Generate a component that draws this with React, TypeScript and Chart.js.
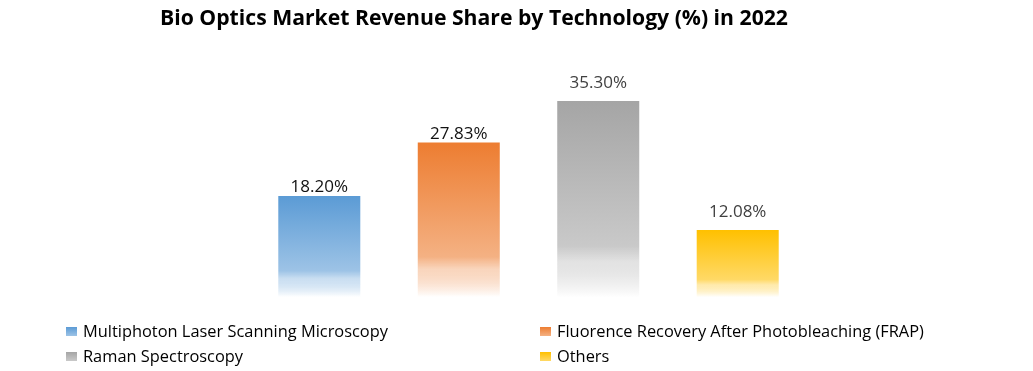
import React, { useEffect, useRef } from "react";
import { Chart, registerables } from "chart.js";

Chart.register(...registerables);

const TITLE = "Bio Optics Market Revenue Share by Technology (%) in 2022";
const categories = ["2022"];
const seriesNames = [
  "Multiphoton Laser Scanning Microscopy",
  "Fluorence Recovery After Photobleaching (FRAP)",
  "Raman Spectroscopy",
  "Others",
];
const seriesValues = [18.2, 27.83, 35.3, 12.08];
const topColors = ["#5B9BD5", "#ED7D31", "#A5A5A5", "#FFC000"];
const midColors = ["#9DC3E6", "#F4B183", "#C9C9C9", "#FFD966"];
const labelColors = ["#111111", "#111111", "#404040", "#404040"];
const labelGaps = [4, 4, 13, 13];

function makeGradient(ctx: CanvasRenderingContext2D, y0: number, y1: number, i: number) {
  const g = ctx.createLinearGradient(0, y0, 0, y1);
  g.addColorStop(0, topColors[i]);
  g.addColorStop(0.74, midColors[i]);
  g.addColorStop(0.84, "rgba(255,255,255,0)");
  g.addColorStop(0.84, midColors[i] + "99");
  g.addColorStop(1, "#FFFFFF");
  return g;
}

function blendGradient(ctx: CanvasRenderingContext2D, y0: number, y1: number, i: number) {
  const g = ctx.createLinearGradient(0, y0, 0, y1);
  g.addColorStop(0, topColors[i]);
  g.addColorStop(0.74, midColors[i]);
  g.addColorStop(0.82, midColors[i] + "88");
  g.addColorStop(1, "#FFFFFFF0");
  return g;
}

export default function App() {
  const ref = useRef<HTMLCanvasElement | null>(null);
  useEffect(() => {
    if (!ref.current) return;
    const overlay = {
      id: "overlay",
      afterDatasetsDraw(chart: any) {
        const ctx = chart.ctx as CanvasRenderingContext2D;
        ctx.save();
        ctx.font = "17px 'Open Sans'";
        ctx.textAlign = "center";
        ctx.textBaseline = "alphabetic";
        chart.data.datasets.forEach((ds: any, i: number) => {
          const meta = chart.getDatasetMeta(i);
          ctx.fillStyle = labelColors[i];
          meta.data.forEach((bar: any, j: number) => {
            ctx.fillText(ds.data[j].toFixed(2) + "%", bar.x, bar.y - labelGaps[i]);
          });
        });
        ctx.font = "bold 21.2px 'Open Sans'";
        ctx.fillStyle = "#000000";
        ctx.textBaseline = "middle";
        ctx.fillText(TITLE, 474, 19);
        ctx.font = "16.4px 'Open Sans'";
        ctx.textAlign = "left";
        const pos = [
          [66, 331],
          [540, 331],
          [66, 356],
          [540, 356],
        ];
        seriesNames.forEach((name, i) => {
          const [x, y] = pos[i];
          const g = ctx.createLinearGradient(0, y - 4, 0, y + 5);
          g.addColorStop(0, topColors[i]);
          g.addColorStop(1, midColors[i]);
          ctx.fillStyle = g;
          ctx.fillRect(x, y - 4, 11, 9);
          ctx.fillStyle = "#000000";
          ctx.fillText(name, x + 17, y + 1);
        });
        ctx.restore();
      },
    };
    const chart = new Chart(ref.current, {
      type: "bar",
      data: {
        labels: categories,
        datasets: seriesNames.map((name, i) => ({
          label: name,
          data: [seriesValues[i]],
          backgroundColor: (c: any) => {
            const ch = c.chart;
            const ys = ch.scales && ch.scales.y;
            if (!ys || !ch.chartArea) return topColors[i];
            const v = c.raw ?? seriesValues[i];
            return blendGradient(ch.ctx, ys.getPixelForValue(v), ys.getPixelForValue(0), i);
          },
          borderWidth: 0,
          barPercentage: 0.588,
          categoryPercentage: 0.797,
        })),
      },
      options: {
        animation: false,
        responsive: false,
        layout: { padding: { top: 75, bottom: 74, left: 178.5, right: 154.5 } },
        plugins: {
          legend: { display: false },
          title: { display: false },
          tooltip: { enabled: false },
        },
        scales: {
          x: { display: false },
          y: { display: false, min: 0, max: 40 },
        },
      },
      plugins: [overlay],
    });
    return () => chart.destroy();
  }, []);
  return (
    <div style={{ position: "fixed", left: 0, top: 0, width: 1033, height: 371, background: "#fff" }}>
      <canvas ref={ref} width={1033} height={371} style={{ width: 1033, height: 371 }} />
    </div>
  );
}
